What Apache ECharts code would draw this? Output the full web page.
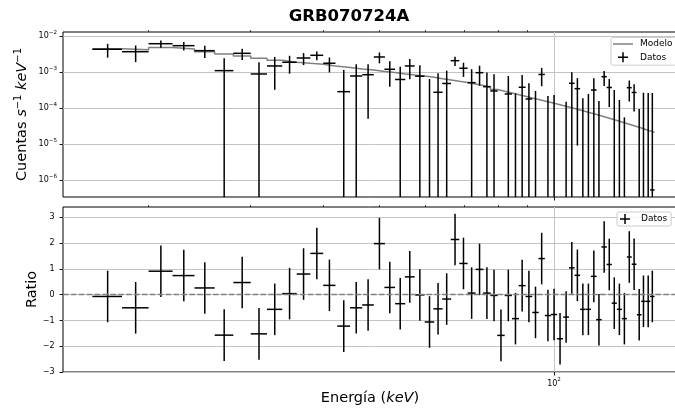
<!DOCTYPE html>
<html>
<head>
<meta charset="utf-8">
<script src="https://cdn.jsdelivr.net/npm/echarts@6/dist/echarts.min.js"></script>
<style>
  html, body { margin: 0; padding: 0; background: #fff; }
  #chart { width: 675px; height: 410px; }
</style>
</head>
<body>
<div id="chart"></div>
<script>
// Spectral bins: centre energy and half-width (keV)
const energy = [17, 19, 21, 23, 25, 27, 29, 31, 33, 35, 37, 39, 41,
  43.4, 45.6, 47.8, 50.0, 52.1, 54.3, 56.4, 58.7, 61.0, 63.1, 65.3, 67.5, 69.8,
  72.1, 74.4, 76.6, 78.8, 81.0, 83.4, 85.8, 88.1, 90.5, 92.9, 95.2, 97.6, 100.0,
  102.4, 104.9, 107.3, 109.7, 112.1, 114.6, 117.1, 119.5, 122.0, 124.5, 127.0,
  129.6, 132.2, 134.8, 137.4, 140.2, 142.6, 145.3, 147.7];
const energyErr = [1, 1, 1, 1, 1, 1, 1, 1, 1, 1, 1, 1, 1,
  1.1, 1.1, 1.1, 1.1, 1.1, 1.1, 1.1, 1.1,
  1.15, 1.15, 1.15, 1.15, 1.15, 1.15, 1.15, 1.15, 1.15,
  1.2, 1.2, 1.2, 1.2, 1.2, 1.2, 1.2, 1.2, 1.2, 1.2, 1.2, 1.2, 1.2, 1.2, 1.2,
  1.3, 1.3, 1.3, 1.3, 1.3, 1.3, 1.3, 1.3, 1.3, 1.3, 1.3, 1.3, 1.3];

// Background-subtracted count rate (counts s^-1 keV^-1) and 1-sigma error
const rate = [4.28e-3, 3.66e-3, 6.1e-3, 5.38e-3, 3.91e-3, 1.09e-3, 3.3e-3, 8.8e-4, 1.47e-3, 1.86e-3,
  2.45e-3, 2.91e-3, 1.75e-3, 2.84e-4, 7.74e-4, 8.4e-4, 2.61e-3, 1.19e-3, 6.19e-4, 1.47e-3,
  7.64e-4, -6.0e-5, 2.73e-4, 4.8e-4, 2.06e-3, 1.27e-3, 5.05e-4, 9.57e-4, 3.91e-4, 2.97e-4,
  -6.6e-4, 2.45e-4, -2.44e-4, 3.76e-4, 1.78e-4, -2.3e-5, 8.53e-4, -8.5e-5, -7.0e-5, -3.5e-4,
  -1.3e-4, 4.85e-4, 3.44e-4, -7.4e-5, -5.5e-5, 3.16e-4, -1.04e-4, 7.4e-4, 3.71e-4, -1.4e-5,
  -7.3e-5, -1.25e-4, 3.66e-4, 2.70e-4, -1.07e-4, -3.4e-5, -3.9e-5, 5.3e-7];
const rateErr = [1.78e-3, 1.78e-3, 1.4e-3, 1.4e-3, 1.45e-3, 1.32e-3, 1.15e-3, 9.8e-4, 1.15e-3, 9.6e-4,
  9.0e-4, 8.0e-4, 7.8e-4, 8.6e-4, 8.6e-4, 7.9e-4, 8.7e-4, 8.0e-4, 7.8e-4, 8.4e-4,
  7.8e-4, 7.0e-4, 6.5e-4, 6.1e-4, 6.0e-4, 5.4e-4, 6.9e-4, 5.4e-4, 5.7e-4, 5.7e-4,
  6.0e-4, 5.3e-4, 5.0e-4, 4.5e-4, 3.1e-4, 3.2e-4, 4.5e-4, 3.0e-4, 3.0e-4, 2.5e-4,
  2.8e-4, 5.0e-4, 3.35e-4, 2.6e-4, 3.0e-4, 3.5e-4, 2.6e-4, 3.3e-4, 2.65e-4, 3.3e-4,
  2.4e-4, 1.8e-4, 2.15e-4, 1.9e-4, 2.0e-4, 3.0e-4, 3.0e-4, 2.6e-4];

// Folded model rate in each bin
const model = [4.41e-3, 4.14e-3, 4.79e-3, 4.35e-3, 3.64e-3, 3.16e-3, 2.78e-3, 2.40e-3, 2.11e-3, 1.86e-3,
  1.74e-3, 1.64e-3, 1.47e-3, 1.33e-3, 1.21e-3, 1.14e-3, 1.03e-3, 9.7e-4, 8.8e-4, 8.25e-4,
  7.74e-4, 7.12e-4, 6.51e-4, 6.0e-4, 5.52e-4, 5.11e-4, 4.64e-4, 4.22e-4, 3.76e-4, 3.27e-4,
  2.91e-4, 2.61e-4, 2.33e-4, 2.11e-4, 1.90e-4, 1.72e-4, 1.56e-4, 1.42e-4, 1.29e-4, 1.17e-4,
  1.07e-4, 9.7e-5, 8.8e-5, 8.0e-5, 7.26e-5, 6.6e-5, 6.0e-5, 5.45e-5, 4.95e-5, 4.5e-5,
  4.08e-5, 3.71e-5, 3.37e-5, 3.06e-5, 2.78e-5, 2.53e-5, 2.30e-5, 2.09e-5];

// Residuals in units of sigma, (data - model) / error
const ratio = [-0.07, -0.51, 0.91, 0.74, 0.26, -1.57, 0.47, -1.52, -0.57, 0.04,
  0.80, 1.60, 0.36, -1.22, -0.51, -0.40, 1.98, 0.28, -0.35, 0.69,
  -0.01, -1.06, -0.55, -0.17, 2.14, 1.21, 0.06, 0.98, 0.06, -0.03,
  -1.58, -0.03, -0.93, 0.35, -0.07, -0.69, 1.40, -0.81, -0.77, -1.71,
  -0.87, 1.04, 0.75, -0.57, -0.57, 0.71, -0.97, 1.85, 1.17, -0.33,
  -0.57, -0.93, 1.46, 1.18, -0.78, -0.26, -0.26, -0.07];
const ratioErr = 1;

// Axis ticks
const fluxTicks = [1e-6, 1e-5, 1e-4, 1e-3, 1e-2];
const fluxMinorTicks = [];
for (let e = -7; e <= -3; e++) {
  for (let k = 2; k <= 9; k++) fluxMinorTicks.push(k * Math.pow(10, e));
}
const ratioTicks = [-3, -2, -1, 0, 1, 2, 3];
const energyTicks = [100];
const energyMinorTicks = [20, 30, 40, 50, 60, 70, 80, 90];

// Axis ranges
const fluxRange = [3.37e-7, 1.29e-2];
const ratioRange = [-3, 3.4];
const energyRange = [14.24, 162.9];

const FONT = 'DejaVu Sans';
const GRID_COLOR = '#c4c4c4';
const PLUS_ICON = 'path://M4.25,0H5.75V4.25H10V5.75H5.75V10H4.25V5.75H0V4.25H4.25Z';
const LINE_ICON = 'path://M0,0H20V1.5H0Z';

const minus = s => String(s).replace('-', '\u2212');
const supRich = {
  b: { fontSize: 8, lineHeight: 13, fontFamily: FONT, color: '#000' },
  sup: { fontSize: 5.6, lineHeight: 6, verticalAlign: 'top', fontFamily: FONT, color: '#000' }
};
const powLabel = v => '{b|10}{sup|' + minus(Math.round(Math.log10(v))) + '}';
const nameRich = {
  n: { fontSize: 14.5, lineHeight: 18, fontFamily: FONT, color: '#000' },
  i: { fontSize: 14.5, lineHeight: 18, fontStyle: 'italic', fontFamily: FONT, color: '#000' },
  sup: { fontSize: 10, lineHeight: 10, verticalAlign: 'top', fontFamily: FONT, color: '#000' }
};

// Tables for the series
const dataRows = energy.map((e, i) => [e, energyErr[i], rate[i], rateErr[i]]);
const ratioRows = energy.map((e, i) => [e, energyErr[i], ratio[i], ratioErr]);
const modelSteps = [];
energy.forEach((e, i) => {
  modelSteps.push([e - energyErr[i], model[i]]);
  modelSteps.push([e + energyErr[i], model[i]]);
});

// Cross-shaped error bars; anything below `floor` is cut at the axis bottom
function errorBars(floor) {
  return function (params, api) {
    const x = api.value(0), xe = api.value(1), y = api.value(2), ye = api.value(3);
    const hi = y + ye, lo = y - ye;
    if (!(hi > floor)) return null;
    const style = { stroke: '#000', lineWidth: 1.5 };
    const top = api.coord([x, hi]);
    const bot = api.coord([x, lo > floor ? lo : floor]);
    const children = [{ type: 'line', shape: { x1: top[0], y1: top[1], x2: bot[0], y2: bot[1] }, style }];
    if (y > floor) {
      const a = api.coord([x - xe, y]), b = api.coord([x + xe, y]);
      children.push({ type: 'line', shape: { x1: a[0], y1: a[1], x2: b[0], y2: b[1] }, style });
    }
    return { type: 'group', children };
  };
}

function energyAxis(gridIndex, major, withLabel, extra) {
  return Object.assign({
    type: 'log', gridIndex, min: energyRange[0], max: energyRange[1], logBase: 10,
    axisLine: { show: false, onZero: false },
    axisTick: {
      show: true, inside: false, length: major ? 3.5 : 2,
      lineStyle: { color: '#000', width: major ? 0.9 : 0.7 },
      customValues: major ? energyTicks : energyMinorTicks
    },
    axisLabel: {
      show: major && withLabel, margin: 5, customValues: energyTicks,
      formatter: v => '{b|10}{sup|' + Math.round(Math.log10(v)) + '}', rich: supRich
    },
    splitLine: { show: major, lineStyle: { color: GRID_COLOR, width: 1 } }
  }, extra || {});
}

const chart = echarts.init(document.getElementById('chart'), null, { renderer: 'canvas' });
chart.setOption({
  animation: false,
  backgroundColor: '#fff',
  title: {
    text: 'GRB070724A', left: 349, top: 8.5, textAlign: 'center', padding: 0,
    textStyle: { fontFamily: FONT, fontWeight: 'bold', fontSize: 16.5, color: '#000' }
  },
  grid: [
    { left: 63, top: 32, width: 614, height: 165, show: true, borderColor: '#000', borderWidth: 1,
      backgroundColor: 'transparent', outerBoundsMode: 'none', containLabel: false },
    { left: 63, top: 207, width: 614, height: 165, show: true, borderColor: '#000', borderWidth: 1,
      backgroundColor: 'transparent', outerBoundsMode: 'none', containLabel: false }
  ],
  legend: [
    {
      left: 611, top: 37.5, orient: 'vertical', itemWidth: 20, itemHeight: 10, itemGap: 3.7,
      padding: [2, 4, 3, 2], backgroundColor: 'rgba(255,255,255,0.85)',
      borderColor: '#cccccc', borderWidth: 1, borderRadius: 2,
      itemStyle: { borderWidth: 0 }, selectedMode: false,
      textStyle: { fontFamily: FONT, fontSize: 9, color: '#000', padding: [0, 0, 0, 2] },
      data: [{ name: 'Modelo', icon: LINE_ICON }, { name: 'Datos', icon: PLUS_ICON }]
    },
    {
      left: 617, top: 212, orient: 'vertical', itemWidth: 22, itemHeight: 10,
      padding: [2, 4, 2, 3], backgroundColor: 'rgba(255,255,255,0.85)',
      borderColor: '#cccccc', borderWidth: 1, borderRadius: 2,
      itemStyle: { borderWidth: 0 }, selectedMode: false,
      textStyle: { fontFamily: FONT, fontSize: 9, color: '#000' },
      data: [{ name: 'Datos', icon: PLUS_ICON }]
    }
  ],
  xAxis: [
    energyAxis(0, true, false),
    energyAxis(0, false, false),
    energyAxis(1, true, true, {
      name: 'Energía ({i|keV})', nameLocation: 'middle', nameGap: 17, nameMoveOverlap: false,
      nameTextStyle: { fontFamily: FONT, fontSize: 14.5, lineHeight: 18, color: '#000', rich: nameRich }
    }),
    energyAxis(1, false, false)
  ],
  yAxis: [
    {
      type: 'log', gridIndex: 0, min: fluxRange[0], max: fluxRange[1], logBase: 10,
      axisLine: { show: false, onZero: false },
      axisTick: { show: true, length: 3.5, lineStyle: { color: '#000', width: 0.9 }, customValues: fluxTicks },
      axisLabel: { show: true, margin: 6, customValues: fluxTicks, formatter: powLabel, rich: supRich },
      splitLine: { show: true, lineStyle: { color: GRID_COLOR, width: 1 } },
      name: 'Cuentas {i|s}{sup|\u22121} {i|keV}{sup|\u22121}', nameLocation: 'middle', nameGap: 32,
      nameMoveOverlap: false,
      nameTextStyle: { fontFamily: FONT, fontSize: 14.5, lineHeight: 18, color: '#000', rich: nameRich }
    },
    {
      type: 'log', gridIndex: 0, min: fluxRange[0], max: fluxRange[1], logBase: 10,
      axisLine: { show: false, onZero: false },
      axisTick: { show: true, length: 2, lineStyle: { color: '#000', width: 0.7 }, customValues: fluxMinorTicks },
      axisLabel: { show: false },
      splitLine: { show: false }
    },
    {
      type: 'value', gridIndex: 1, min: ratioRange[0], max: ratioRange[1], interval: 1,
      axisLine: { show: false, onZero: false },
      axisTick: { show: true, length: 3.5, lineStyle: { color: '#000', width: 0.9 }, customValues: ratioTicks },
      axisLabel: {
        show: true, margin: 8.5, customValues: ratioTicks, formatter: v => minus(v),
        fontFamily: FONT, fontSize: 8, color: '#000'
      },
      splitLine: { show: true, lineStyle: { color: GRID_COLOR, width: 1 } },
      name: 'Ratio', nameLocation: 'middle', nameGap: 22, nameMoveOverlap: false,
      nameTextStyle: { fontFamily: FONT, fontSize: 14.5, lineHeight: 18, color: '#000' }
    }
  ],
  series: [
    {
      name: 'Modelo', type: 'line', xAxisIndex: 0, yAxisIndex: 0,
      data: modelSteps, showSymbol: false, symbol: 'none', z: 2,
      itemStyle: { color: '#808080' },
      lineStyle: { color: '#808080', width: 1.5 }
    },
    {
      name: 'Datos', type: 'custom', xAxisIndex: 0, yAxisIndex: 0, z: 3,
      data: dataRows, encode: { x: 0, y: 2 },
      itemStyle: { color: '#000' },
      renderItem: errorBars(fluxRange[0])
    },
    {
      name: 'Datos', type: 'custom', xAxisIndex: 2, yAxisIndex: 2, z: 3,
      data: ratioRows, encode: { x: 0, y: 2 },
      itemStyle: { color: '#000' },
      renderItem: errorBars(-Infinity),
      markLine: {
        silent: true, symbol: 'none', label: { show: false }, animation: false,
        lineStyle: { color: '#808080', type: [5.5, 2.4], width: 1.3 },
        data: [{ yAxis: 0 }]
      }
    }
  ]
});
</script>
</body>
</html>
